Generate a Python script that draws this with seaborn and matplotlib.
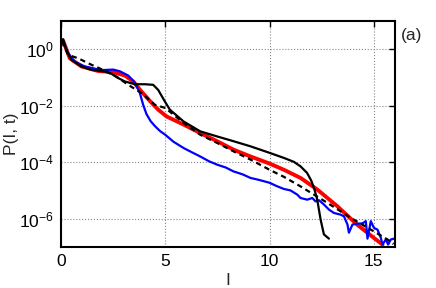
import numpy as np
import pandas as pd
import matplotlib
matplotlib.use("Agg")
import matplotlib.pyplot as plt
import seaborn as sns

# values: intensity I and log10 P(I, t)
blue_I = [0.0, 0.1, 0.34, 0.66, 1.14, 1.94, 2.5, 2.82, 3.22, 3.54, 3.78, 3.94, 4.1, 4.3,
          4.5, 4.75, 5.0, 5.4, 5.88, 6.3, 6.68, 7.1, 7.49, 7.9, 8.28, 8.7, 9.09, 9.5, 10.0,
          10.35, 10.69, 11.0, 11.33, 11.49, 11.81, 12.05, 12.21, 12.37, 12.61, 12.85,
          13.09, 13.41, 13.57, 13.74, 13.81, 13.98, 14.22, 14.46, 14.62, 14.70, 14.86,
          15.01, 15.18, 15.34, 15.42, 15.58, 15.69, 15.82, 15.98]
blue_logP = [0.15, 0.27, -0.14, -0.44, -0.61, -0.74, -0.72, -0.78, -0.93, -1.18, -1.55,
             -1.97, -2.3, -2.55, -2.72, -2.9, -3.03, -3.28, -3.5, -3.66, -3.8, -3.97,
             -4.09, -4.19, -4.33, -4.43, -4.56, -4.63, -4.73, -4.85, -4.95, -5.0, -5.15,
             -5.27, -5.33, -5.27, -5.39, -5.35, -5.5, -5.68, -5.8, -5.86, -5.92, -6.21,
             -6.5, -6.21, -6.18, -6.17, -6.09, -6.71, -6.09, -6.33, -6.39, -6.68, -6.92,
             -6.74, -6.92, -6.74, -6.71]

red_I = [0.0, 0.1, 0.42, 0.98, 1.78, 2.5, 3.06, 3.46, 3.86, 4.26, 4.66, 5.06, 5.88, 6.68,
         7.49, 8.28, 9.09, 10.0, 10.69, 11.49, 12.29, 13.25, 14.2, 15.0, 15.42]
red_logP = [0.15, 0.3, -0.32, -0.61, -0.77, -0.81, -0.93, -1.14, -1.5, -1.83, -2.14,
            -2.38, -2.67, -2.97, -3.26, -3.56, -3.8, -4.05, -4.27, -4.56, -4.97, -5.56,
            -6.21, -6.68, -6.92]

black_I = [0.0, 0.1, 0.25, 0.5, 0.98, 1.46, 2.1, 2.42, 2.74, 3.06, 3.54, 4.02, 4.42, 4.66,
           4.98, 5.22, 5.88, 6.68, 7.49, 8.28, 9.09, 10.0, 10.69, 11.17, 11.49, 11.8,
           12.0, 12.15, 12.29, 12.45, 12.61, 12.85]
black_logP = [0.2, 0.36, -0.02, -0.38, -0.61, -0.73, -0.79, -0.87, -1.02, -1.14, -1.24,
              -1.24, -1.26, -1.44, -1.85, -2.14, -2.56, -2.91, -3.09, -3.26, -3.44, -3.67,
              -3.85, -3.99, -4.15, -4.38, -4.65, -4.95, -5.33, -6.03, -6.56, -6.71]

dash_I = [0.0, 0.1, 0.34, 0.82, 1.46, 2.1, 2.66, 3.22, 3.86, 4.5, 5.0, 5.88, 6.68, 7.49,
          8.28, 9.09, 10.0, 10.69, 11.49, 12.77, 13.89, 14.86, 15.66, 15.95]
dash_logP = [0.25, 0.21, -0.2, -0.32, -0.55, -0.76, -0.97, -1.26, -1.55, -1.97, -2.08,
             -2.61, -3.03, -3.32, -3.62, -3.91, -4.27, -4.52, -4.86, -5.44, -5.97, -6.39,
             -6.74, -6.9]

sns.set_style("white")
plt.rcParams["font.family"] = ["Liberation Sans", "DejaVu Sans"]
plt.rcParams["mathtext.fontset"] = "custom"
plt.rcParams["mathtext.rm"] = "Liberation Sans"
plt.rcParams["mathtext.it"] = "Liberation Sans"

fig = plt.figure(figsize=(4.36, 2.88), dpi=100)
ax = fig.add_axes([0.140, 0.143, 0.765, 0.784])

series = [
    (red_I, red_logP, "#ff0000", 2.8, "-"),
    (blue_I, blue_logP, "#0000ff", 1.6, "-"),
    (black_I, black_logP, "black", 1.6, "-"),
    (dash_I, dash_logP, "black", 1.6, (0, (2.4, 1.8))),
]
for xs, ls, col, lw, sty in series:
    df = pd.DataFrame({"I": xs, "P": 10.0 ** np.array(ls)})
    sns.lineplot(data=df, x="I", y="P", ax=ax, color=col, linewidth=lw,
                 linestyle=sty, sort=False, estimator=None)

ax.set_yscale("log")
ax.set_xlim(0, 16)
ax.set_ylim(1e-7, 1e1)
ax.set_xticks([0, 5, 10, 15])
ax.set_xticklabels(["0", "5", "10", "15"])
ax.set_yticks([1e-6, 1e-4, 1e-2, 1e0])
ax.set_yticklabels([r"$\mathregular{10^{-6}}$", r"$\mathregular{10^{-4}}$",
                    r"$\mathregular{10^{-2}}$", r"$\mathregular{10^{0}}$"])
ax.minorticks_off()
ax.grid(True, which="major", linestyle=":", color="#888888", linewidth=0.8)
ax.tick_params(direction="in", length=4, width=1, top=True, right=True,
               labelsize=12.5, colors="black", pad=5)
for sp in ax.spines.values():
    sp.set_visible(True)
    sp.set_color("black")
    sp.set_linewidth(1.5)

ax.set_xlabel("I", fontsize=12.5, labelpad=3)
ax.set_ylabel("P(I, t)", fontsize=12.5, labelpad=0)
fig.text(0.944, 0.877, "(a)", fontsize=12.5, ha="center", va="center")

plt.savefig("out.png", dpi=100)
